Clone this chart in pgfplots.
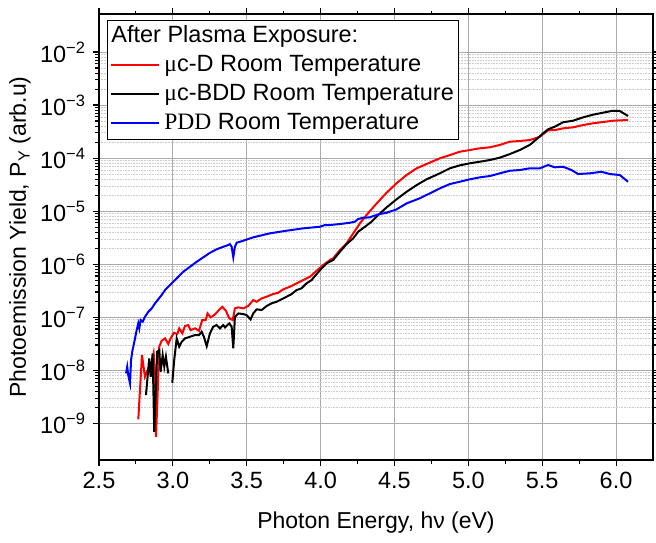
\documentclass[border=0pt]{standalone}
\usepackage{fontspec}
\setmainfont{Liberation Sans}
\newfontfamily\tnr{Liberation Serif}
\usepackage{pgfplots}
\pgfplotsset{compat=1.18}
\begin{document}
\begin{tikzpicture}
\begin{axis}[
  name=ax,
  scale only axis,
  width=554pt, height=446pt,
  ymode=log,
  xmin=2.5, xmax=6.25,
  ymin=2.04e-10, ymax=5.2e-2,
  xtick={2.5,3.0,...,6.0},
  minor x tick num=1,
  ytick={1e-9,1e-8,1e-7,1e-6,1e-5,1e-4,1e-3,1e-2},
  yticklabels={10\textsuperscript{−9},10\textsuperscript{−8},10\textsuperscript{−7},10\textsuperscript{−6},10\textsuperscript{−5},10\textsuperscript{−4},10\textsuperscript{−3},10\textsuperscript{−2}},
  xticklabel style={/pgf/number format/fixed,/pgf/number format/fixed zerofill,/pgf/number format/precision=1, yshift=-3pt},
  yticklabel style={xshift=-4pt},
  /pgf/number format/assume math mode=true,
  tick label style={font=\fontsize{23.5}{28}\selectfont},
  tick align=outside,
  major tick length=6pt, minor tick length=3.5pt,
  every tick/.style={black, line width=1.1pt},
  axis line style={line width=1.6pt},
  xmajorgrids, ymajorgrids, yminorgrids,
  major grid style={line width=0.8pt, black!33},
  minor grid style={line width=0.6pt, densely dotted, black!20},
  xlabel={Photon Energy, hν (eV)},
  ylabel={Photoemission Yield, P\textsubscript{Y} (arb.u)},
  label style={font=\fontsize{23}{28}\selectfont},
  xlabel style={at={(axis description cs:0.5,-0.1413)}, anchor=center},
  ylabel style={at={(axis description cs:-0.1426,0.5)}, anchor=center},
  legend cell align=left,
  legend style={at={(axis description cs:0.0144,0.9865)}, anchor=north west,
    draw=black, line width=0.9pt, fill=white, inner sep=3pt,
    font=\fontsize{23.5}{28}\selectfont, row sep=3pt, column sep=2pt,
    nodes={inner sep=2pt, text height=17pt, text depth=5pt}},
  legend image code/.code={\draw[#1, line width=2pt] (0pt,0pt) -- (48pt,0pt);},
]
\addlegendimage{empty legend}
\addlegendentry{\hspace*{-53pt}After Plasma Exposure:}

\addplot[red, line width=2pt] coordinates {
(2.766,1.19e-9)(2.791,1.94e-8)(2.811,7.55e-9)(2.834,1.09e-8)(2.857,1.35e-8)(2.870,2.09e-8)
(2.879,1.01e-8)(2.886,5.58e-10)(2.897,3.67e-9)(2.908,2.78e-8)(2.924,3.61e-8)(2.947,4.00e-8)
(2.969,3.13e-8)(2.985,4.00e-8)(3.007,5.10e-8)(3.030,4.82e-8)(3.043,6.18e-8)(3.064,4.98e-8)
(3.082,6.83e-8)(3.104,7.13e-8)(3.120,5.74e-8)(3.150,6.18e-8)(3.177,5.57e-8)(3.199,8.86e-8)
(3.222,8.86e-8)(3.235,1.18e-7)(3.256,9.95e-8)(3.285,1.13e-7)(3.312,1.37e-7)(3.334,1.58e-7)
(3.359,1.33e-7)(3.382,9.53e-8)(3.405,8.86e-8)(3.420,1.47e-7)(3.443,1.54e-7)(3.476,1.47e-7)
(3.510,1.63e-7)(3.544,2.11e-7)(3.567,1.96e-7)(3.601,2.27e-7)(3.635,2.44e-7)(3.679,2.74e-7)
(3.713,2.90e-7)(3.747,3.36e-7)(3.792,3.76e-7)(3.838,4.36e-7)(3.882,5.03e-7)(3.928,5.80e-7)
(3.973,7.53e-7)(4.018,9.64e-7)(4.063,1.20e-6)(4.085,1.29e-6)(4.131,1.85e-6)(4.176,2.47e-6)
(4.221,3.82e-6)(4.266,5.89e-6)(4.311,8.45e-6)(4.356,1.18e-5)(4.401,1.62e-5)(4.447,2.23e-5)
(4.514,3.35e-5)(4.582,4.80e-5)(4.650,6.42e-5)(4.717,7.73e-5)(4.807,9.91e-5)(4.875,1.14e-4)
(4.943,1.32e-4)(5.010,1.42e-4)(5.078,1.53e-4)(5.146,1.60e-4)(5.213,1.77e-4)(5.281,2.04e-4)
(5.348,2.10e-4)(5.416,2.19e-4)(5.484,2.53e-4)(5.540,3.34e-4)(5.585,3.37e-4)(5.641,3.64e-4)
(5.709,3.80e-4)(5.777,4.20e-4)(5.844,4.53e-4)(5.912,4.79e-4)(5.980,5.07e-4)(6.081,5.22e-4)
};
\addlegendentry{{\tnr μ}c-D Room Temperature}

\addplot[black, line width=2pt] coordinates {
(2.818,3.41e-9)(2.840,1.68e-8)(2.850,7.55e-9)(2.863,2.09e-8)(2.874,6.93e-10)(2.894,2.24e-8)
(2.908,2.41e-8)(2.917,9.38e-9)(2.931,1.94e-8)(2.942,1.17e-8)(2.953,1.80e-8)(2.969,8.75e-9)
};
\addlegendentry{{\tnr μ}c-BDD Room Temperature}

\addplot[black, line width=2pt, forget plot] coordinates {
(2.996,5.82e-9)(3.009,1.56e-8)(3.026,4.00e-8)(3.043,2.78e-8)(3.060,3.45e-8)(3.082,4.00e-8)
(3.116,4.29e-8)(3.150,4.62e-8)(3.177,4.62e-8)(3.195,5.33e-8)(3.210,4.29e-8)(3.229,2.86e-8)
(3.251,4.97e-8)(3.273,6.62e-8)(3.296,7.13e-8)(3.319,6.18e-8)(3.341,7.13e-8)(3.353,6.45e-8)
(3.382,7.67e-8)(3.398,6.62e-8)(3.409,2.59e-8)(3.420,1.02e-7)(3.443,1.18e-7)(3.476,1.15e-7)
(3.499,1.10e-7)(3.526,9.12e-8)(3.544,1.18e-7)(3.567,1.41e-7)(3.601,1.37e-7)(3.635,1.63e-7)
(3.668,1.83e-7)(3.702,1.96e-7)(3.736,2.18e-7)(3.770,2.44e-7)(3.804,2.74e-7)(3.838,3.26e-7)
(3.871,3.51e-7)(3.905,4.36e-7)(3.939,5.03e-7)(3.973,6.52e-7)(4.007,8.36e-7)(4.041,1.04e-6)
(4.085,1.20e-6)(4.131,1.72e-6)(4.176,2.40e-6)(4.221,3.08e-6)(4.254,4.09e-6)(4.300,5.08e-6)
(4.345,6.32e-6)(4.390,8.45e-6)(4.447,1.18e-5)(4.514,1.67e-5)(4.582,2.32e-5)(4.650,3.10e-5)
(4.717,3.98e-5)(4.807,5.16e-5)(4.875,6.42e-5)(4.943,7.31e-5)(5.010,7.98e-5)(5.078,8.55e-5)
(5.146,9.20e-5)(5.213,1.02e-4)(5.281,1.19e-4)(5.348,1.42e-4)(5.416,1.77e-4)(5.461,2.26e-4)
(5.506,2.93e-4)(5.540,3.49e-4)(5.585,3.91e-4)(5.641,4.73e-4)(5.709,5.07e-4)(5.777,5.87e-4)
(5.844,6.58e-4)(5.912,7.18e-4)(5.969,7.73e-4)(6.025,7.73e-4)(6.081,6.21e-4)
};

\addplot[blue, line width=2pt] coordinates {
(2.683,8.75e-9)(2.691,1.17e-8)(2.698,8.13e-9)(2.710,5.68e-9)(2.717,1.56e-8)(2.725,2.24e-8)
(2.744,4.00e-8)(2.755,5.74e-8)(2.766,7.67e-8)(2.773,6.18e-8)(2.782,8.86e-8)(2.796,8.23e-8)
(2.811,1.02e-7)(2.834,1.27e-7)(2.857,1.47e-7)(2.879,1.83e-7)(2.901,2.18e-7)(2.924,2.62e-7)
(2.947,3.26e-7)(2.980,4.05e-7)(3.003,4.67e-7)(3.037,5.80e-7)(3.070,7.21e-7)(3.116,8.95e-7)
(3.161,1.11e-6)(3.206,1.35e-6)(3.251,1.64e-6)(3.296,1.91e-6)(3.341,2.13e-6)(3.375,2.30e-6)
(3.386,2.40e-6)(3.398,2.13e-6)(3.409,1.35e-6)(3.420,2.13e-6)(3.432,2.54e-6)(3.476,2.77e-6)
(3.544,3.21e-6)(3.657,3.82e-6)(3.770,4.28e-6)(3.882,4.74e-6)(3.995,5.08e-6)(4.029,5.47e-6)
(4.063,5.47e-6)(4.131,5.72e-6)(4.198,6.05e-6)(4.232,6.32e-6)(4.254,7.10e-6)(4.288,7.52e-6)
(4.334,7.64e-6)(4.356,8.09e-6)(4.401,8.83e-6)(4.447,9.33e-6)(4.514,1.08e-5)(4.582,1.40e-5)
(4.672,1.75e-5)(4.740,2.17e-5)(4.807,2.69e-5)(4.875,3.24e-5)(4.943,3.59e-5)(5.010,3.98e-5)
(5.078,4.34e-5)(5.146,4.59e-5)(5.213,5.16e-5)(5.281,5.78e-5)(5.348,5.96e-5)(5.416,6.42e-5)
(5.484,6.42e-5)(5.540,7.41e-5)(5.585,6.70e-5)(5.641,6.88e-5)(5.698,5.96e-5)(5.743,5.01e-5)
(5.822,5.16e-5)(5.901,5.53e-5)(5.957,5.01e-5)(6.025,4.80e-5)(6.081,3.59e-5)
};
\addlegendentry{{\tnr PDD} Room Temperature}
\end{axis}
\pgfresetboundingbox
\path[use as bounding box] ([shift={(-99pt,-83pt)}]ax.south west) rectangle ([shift={(3pt,14pt)}]ax.north east);
\end{tikzpicture}
\end{document}
